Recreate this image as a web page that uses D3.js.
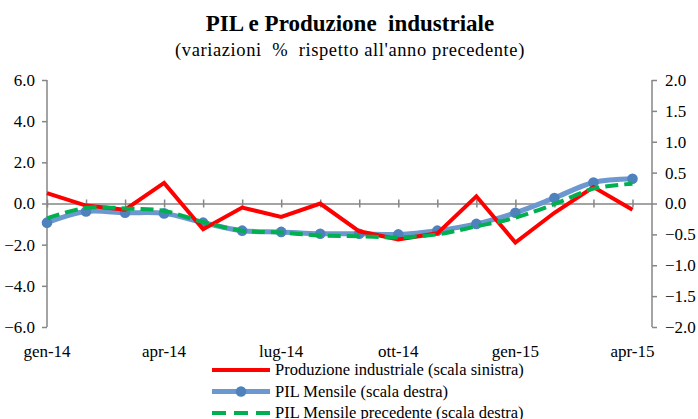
<!DOCTYPE html>
<html>
<head>
<meta charset="utf-8">
<script src="https://cdn.jsdelivr.net/npm/d3@7"></script>
<style>
  body { margin: 0; background: #fff; }
  text { font-family: "Liberation Serif", "Times New Roman", serif; fill: #000; }
</style>
</head>
<body>
<svg width="698" height="419"></svg>
<script>
const months = ["gen-14","feb-14","mar-14","apr-14","mag-14","giu-14","lug-14","ago-14","set-14",
                "ott-14","nov-14","dic-14","gen-15","feb-15","mar-15","apr-15"];
const produzione = [0.5,-0.1,-0.3,1.0,-1.25,-0.2,-0.65,0.0,-1.35,-1.75,-1.45,0.35,-1.9,-0.45,0.8,-0.3];
const pilMensile = [-0.31,-0.13,-0.15,-0.16,-0.31,-0.44,-0.46,-0.49,-0.49,-0.5,-0.44,-0.33,-0.15,0.09,0.34,0.4];
const pilPrecedente = [-0.24,-0.07,-0.08,-0.12,-0.3,-0.44,-0.47,-0.52,-0.53,-0.55,-0.5,-0.37,-0.23,-0.01,0.24,0.32];
const leftTicks = [-6,-4,-2,0,2,4,6];
const rightTicks = [-2,-1.5,-1,-0.5,0,0.5,1,1.5,2];
const labelMonths = ["gen-14","apr-14","lug-14","ott-14","gen-15","apr-15"];

const svg = d3.select("svg");
const axisColor = "#868686";

const x = d3.scaleLinear().domain([0, 15.5]).range([47, 652]);
const yL = d3.scaleLinear().domain([-6, 6]).range([327, 80]);
const yR = d3.scaleLinear().domain([-2, 2]).range([327, 80]);

// titoli
svg.append("text").attr("x", 350).attr("y", 31).attr("text-anchor", "middle")
  .style("font-size", "23px").style("font-weight", "bold").style("white-space", "pre")
  .text("PIL e Produzione  industriale");
svg.append("text").attr("x", 350).attr("y", 56).attr("text-anchor", "middle")
  .style("font-size", "18.5px").style("letter-spacing", "0.6px").style("white-space", "pre")
  .text("(variazioni  %  rispetto all'anno precedente)");

// asse sinistro
const gL = svg.append("g").attr("transform", "translate(" + x(0) + ",0)")
  .call(d3.axisLeft(yL).tickValues(leftTicks).tickFormat(d3.format(".1f")).tickSize(5).tickPadding(7));
// asse destro
const gR = svg.append("g").attr("transform", "translate(" + x(15.5) + ",0)")
  .call(d3.axisRight(yR).tickValues(rightTicks).tickFormat(d3.format(".1f")).tickSize(5).tickPadding(8));
[gL, gR].forEach(g => {
  g.attr("font-family", null);
  g.select(".domain").attr("stroke", axisColor).attr("stroke-width", 1.5);
  g.selectAll(".tick line").attr("stroke", axisColor).attr("stroke-width", 1.5);
  g.selectAll(".tick text").style("font-size", "17px");
});
gL.select(".domain").attr("d", "M0," + yL(-6) + "V" + yL(6));
gR.select(".domain").attr("d", "M0," + yR(-2) + "V" + yR(2));

// asse x sullo zero
const gX = svg.append("g").attr("transform", "translate(0," + yL(0) + ")")
  .call(d3.axisBottom(x).tickValues(d3.range(months.length)).tickFormat("").tickSizeInner(4).tickSizeOuter(0));
gX.select(".domain").attr("stroke", axisColor).attr("stroke-width", 1.5);
gX.selectAll(".tick line").attr("stroke", axisColor).attr("stroke-width", 1.5).attr("y1", -4).attr("y2", 4);

// etichette mesi
svg.append("g").selectAll("text").data(labelMonths).join("text")
  .attr("x", d => x(months.indexOf(d))).attr("y", 357).attr("text-anchor", "middle")
  .style("font-size", "17px").text(d => d);

// serie
const lineL = d3.line().x((d, i) => x(i)).y(d => yL(d));
const lineR = d3.line().x((d, i) => x(i)).y(d => yR(d)).curve(d3.curveCatmullRom.alpha(0.5));

svg.append("path").datum(pilMensile).attr("d", lineR).attr("fill", "none")
  .attr("stroke", "#6B98CF").attr("stroke-width", 5);
svg.append("g").selectAll("circle").data(pilMensile).join("circle")
  .attr("cx", (d, i) => x(i)).attr("cy", d => yR(d)).attr("r", 5.3).attr("fill", "#4F81BD");
svg.append("path").datum(produzione).attr("d", lineL).attr("fill", "none")
  .attr("stroke", "#FF0000").attr("stroke-width", 4).attr("stroke-linejoin", "miter");
svg.append("path").datum(pilPrecedente).attr("d", lineR).attr("fill", "none")
  .attr("stroke", "#00B050").attr("stroke-width", 4).attr("stroke-dasharray", "13,6");

// legenda
const legend = [
  { name: "Produzione industriale (scala sinistra)", color: "#FF0000", dash: null, marker: false },
  { name: "PIL Mensile (scala destra)", color: "#6B98CF", dash: null, marker: true },
  { name: "PIL Mensile precedente (scala destra)", color: "#00B050", dash: "14,8", marker: false }
];
const lg = svg.append("g").selectAll("g").data(legend).join("g")
  .attr("transform", (d, i) => "translate(212," + (370 + i * 21.5) + ")");
lg.append("line").attr("x1", 0).attr("x2", 58).attr("stroke", d => d.color)
  .attr("stroke-width", d => d.marker ? 5 : 4).attr("stroke-dasharray", d => d.dash);
lg.filter(d => d.marker).append("circle").attr("cx", 29).attr("r", 5.3).attr("fill", "#4F81BD");
lg.append("text").attr("x", 63).attr("y", 5).style("font-size", "16.5px").text(d => d.name);
</script>
</body>
</html>
